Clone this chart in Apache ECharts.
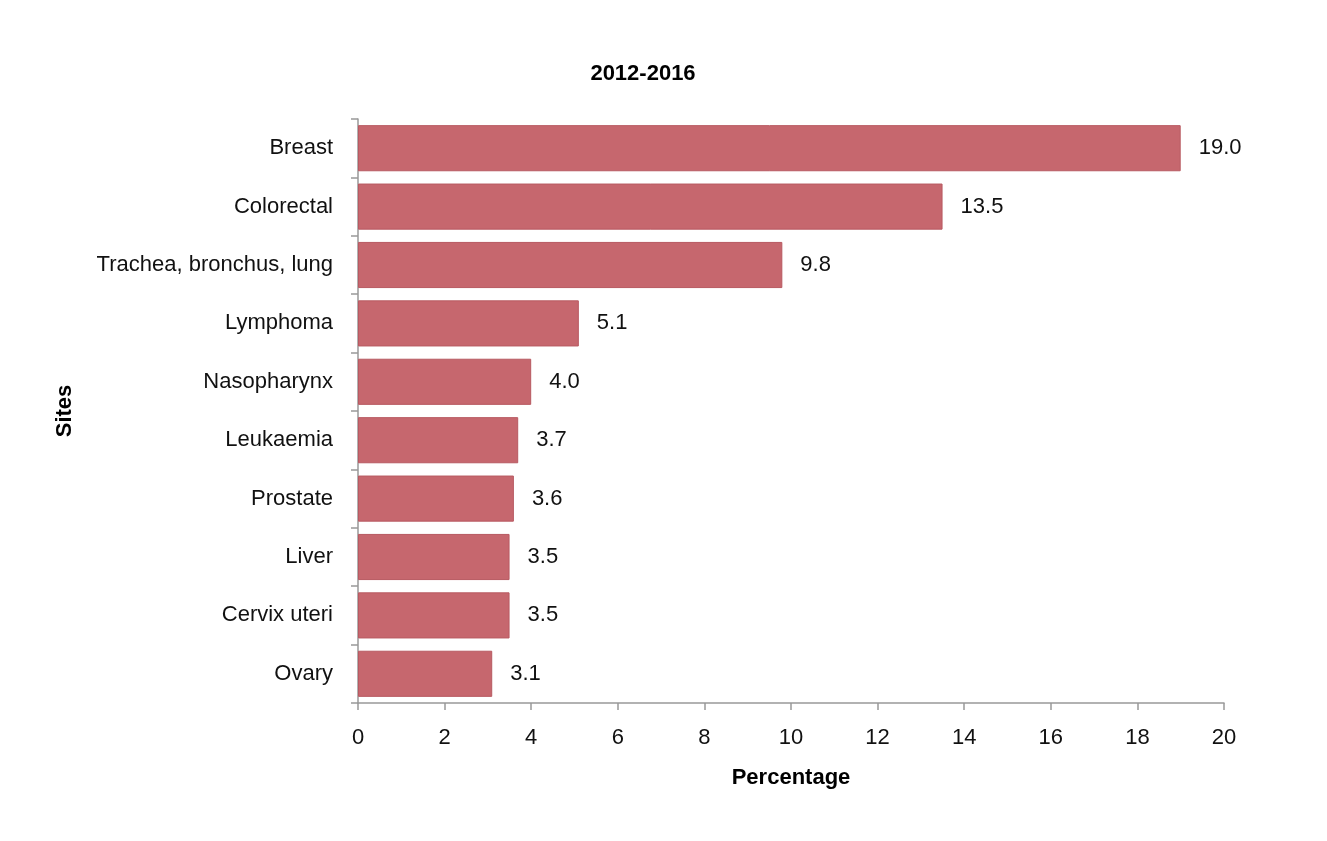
<!DOCTYPE html>
<html><head><meta charset="utf-8">
<script src="https://cdn.jsdelivr.net/npm/echarts@6/dist/echarts.min.js"></script>
<style>html,body{margin:0;padding:0;background:#fff}#c{width:1327px;height:841px}</style>
</head><body><div id="c"></div>
<script>
const categories = ["Breast","Colorectal","Trachea, bronchus, lung","Lymphoma","Nasopharynx","Leukaemia","Prostate","Liver","Cervix uteri","Ovary"];
const values = [19.0,13.5,9.8,5.1,4.0,3.7,3.6,3.5,3.5,3.1];
const title = "2012-2016";
const xName = "Percentage";
const yName = "Sites";
const font = "Liberation Sans, Arial, sans-serif";
const chart = echarts.init(document.getElementById('c'));
chart.setOption({
  animation:false,
  title:{text:title,left:638,top:58,textAlign:'center',textStyle:{fontFamily:font,fontSize:22,fontWeight:'bold',color:'#000'}},
  grid:{left:358,right:103,top:119,bottom:138,containLabel:false},
  xAxis:{type:'value',min:0,max:20,interval:2,
    name:xName,nameLocation:'middle',nameGap:64,
    nameTextStyle:{fontFamily:font,fontSize:22,fontWeight:'bold',color:'#000'},
    axisLine:{show:true,lineStyle:{color:'#999',width:1.5}},
    axisTick:{show:true,length:7,lineStyle:{color:'#999',width:1.5}},
    axisLabel:{fontFamily:font,fontSize:22,color:'#111',margin:24},
    splitLine:{show:false}},
  yAxis:{type:'category',data:categories,inverse:true,
    name:yName,nameLocation:'middle',nameGap:282,nameRotate:90,
    nameTextStyle:{fontFamily:font,fontSize:22,fontWeight:'bold',color:'#000'},
    axisLine:{show:true,lineStyle:{color:'#999',width:1.5}},
    axisTick:{show:true,length:7,lineStyle:{color:'#999',width:1.5}},
    axisLabel:{fontFamily:font,fontSize:22,color:'#111',margin:25}},
  series:[{type:'bar',data:values,barCategoryGap:'21%',
    itemStyle:{color:'#C6676E',borderColor:'#B85A62',borderWidth:1},
    label:{show:true,position:'right',distance:18,fontFamily:font,fontSize:22,color:'#111',
      formatter:p=>p.value.toFixed(1)}}]
});
</script></body></html>
